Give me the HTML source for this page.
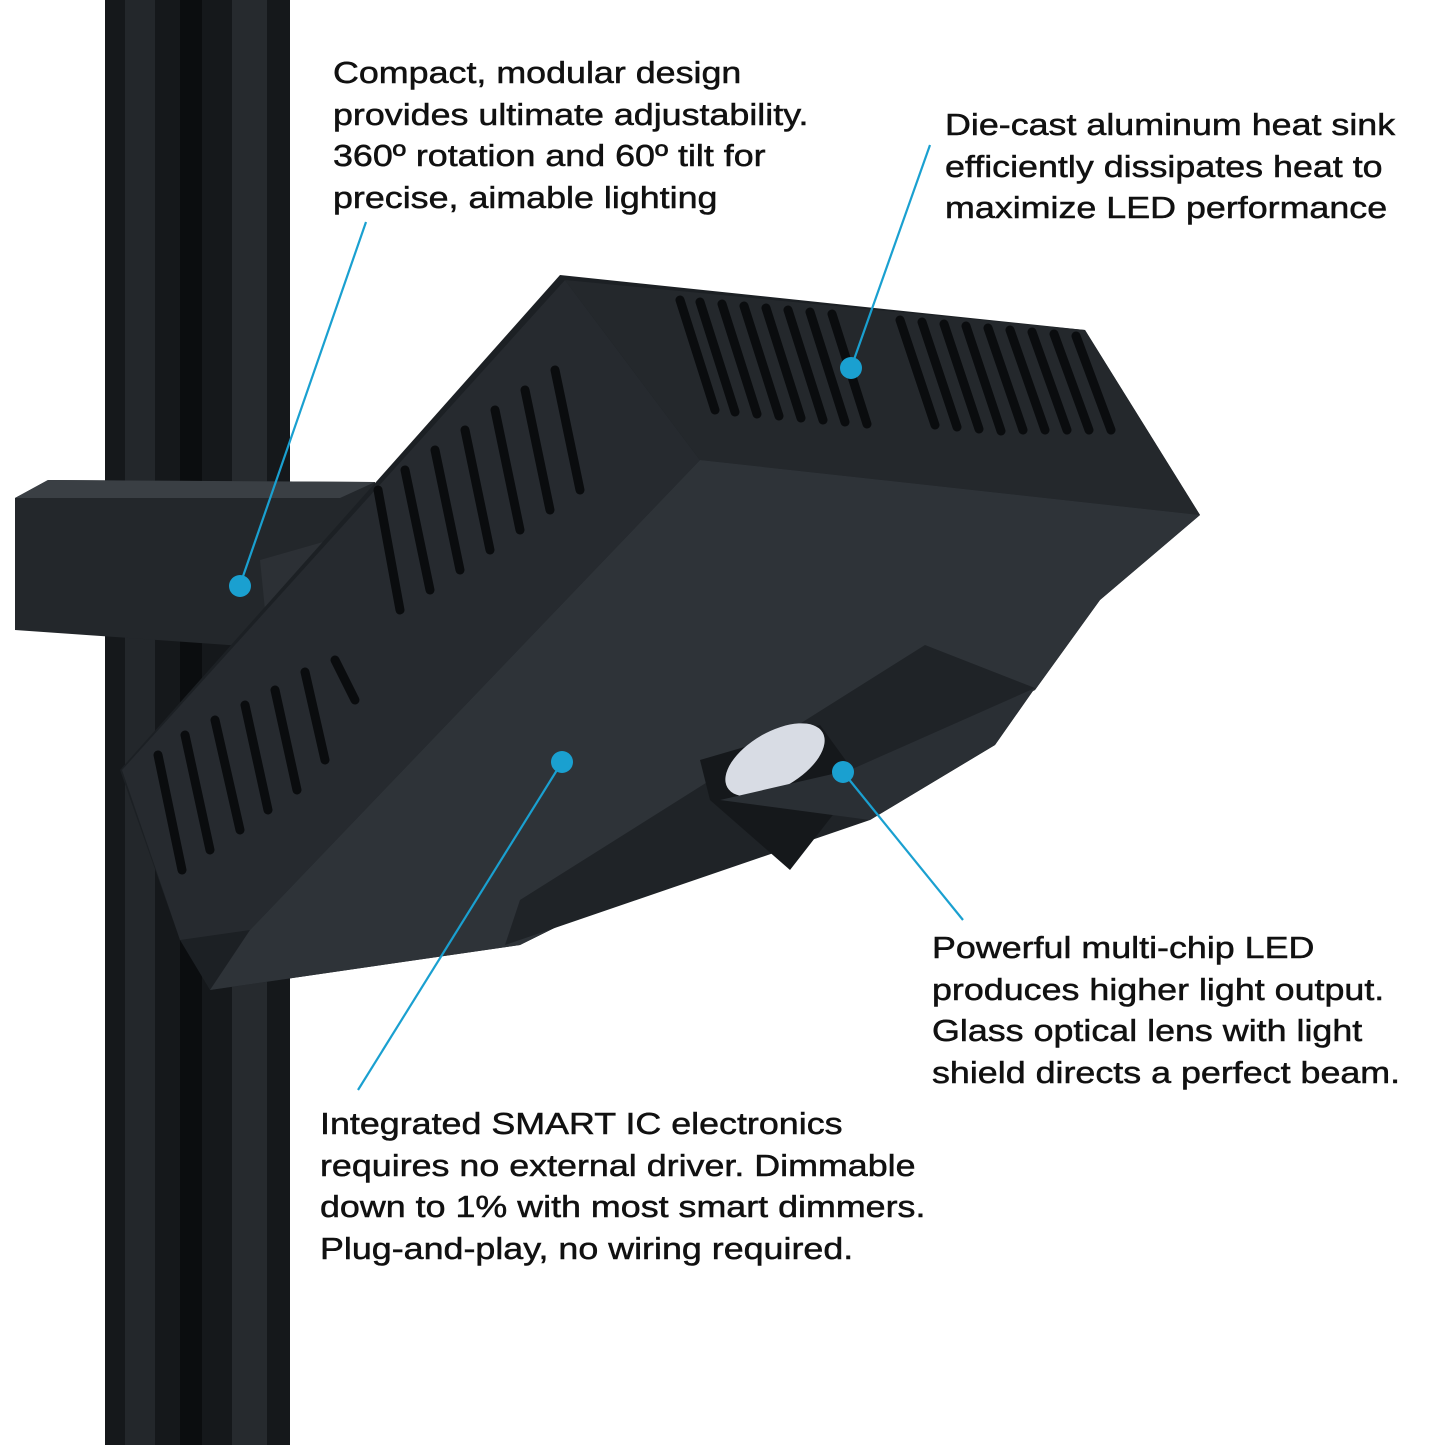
<!DOCTYPE html>
<html><head><meta charset="utf-8"><style>
html,body{margin:0;padding:0;background:#fff;}
.wrap{position:relative;width:1445px;height:1445px;overflow:hidden;background:#fff;}
svg{position:absolute;left:0;top:0;}
.t{position:absolute;font-family:"Liberation Sans",Arial,sans-serif;font-size:30.5px;line-height:41.7px;color:#111;white-space:nowrap;transform:scaleX(1.175);transform-origin:0 0;-webkit-text-stroke:0.5px #111;}
</style></head><body><div class="wrap">
<svg width="1445" height="1445" viewBox="0 0 1445 1445">
<rect x="105" y="0" width="185" height="1445" fill="#15181b"/>
<rect x="125" y="0" width="30" height="1445" fill="#23272b"/>
<rect x="180" y="0" width="22" height="1445" fill="#0b0d0f"/>
<rect x="232" y="0" width="35" height="1445" fill="#262a2e"/>
<polygon points="15,498 48,480 375,482 380,600 300,650 15,630" fill="#23272b"/>
<polygon points="15,498 48,480 375,482 340,498" fill="#3a3f44"/>
<polygon points="260,560 330,540 360,580 355,640 320,680 270,660" fill="#2c3035"/>
<circle cx="297" cy="612" r="15" fill="#0a0c0e" stroke="#454a50" stroke-width="3"/>
<polygon points="120,770 560,275 1085,330 1200,515 1100,600 1035,690 520,945 210,990 180,940" fill="#1c2024"/>
<polygon points="122,770 565,280 700,460 250,930 180,940" fill="#262a2f"/>
<polygon points="565,280 1085,330 1200,515 700,460" fill="#24282c"/>
<polygon points="700,460 1200,515 1100,600 1035,690 520,945 210,990 250,930" fill="#2e3338"/>
<g stroke="#0a0c0e" stroke-width="9" stroke-linecap="round">
<line x1="680" y1="300" x2="715" y2="410"/><line x1="700" y1="302" x2="735" y2="412"/>
<line x1="722" y1="304" x2="757" y2="414"/><line x1="744" y1="306" x2="779" y2="416"/>
<line x1="766" y1="308" x2="801" y2="418"/><line x1="788" y1="310" x2="823" y2="420"/>
<line x1="810" y1="312" x2="845" y2="422"/><line x1="832" y1="314" x2="867" y2="424"/>
<line x1="900" y1="320" x2="935" y2="425"/><line x1="922" y1="322" x2="957" y2="427"/>
<line x1="944" y1="324" x2="979" y2="429"/><line x1="966" y1="326" x2="1001" y2="431"/>
<line x1="988" y1="328" x2="1023" y2="430"/><line x1="1010" y1="330" x2="1045" y2="430"/>
<line x1="1032" y1="332" x2="1067" y2="430"/><line x1="1054" y1="334" x2="1089" y2="430"/>
<line x1="1076" y1="336" x2="1111" y2="430"/>
<line x1="555" y1="370" x2="580" y2="490"/><line x1="525" y1="390" x2="550" y2="510"/>
<line x1="495" y1="410" x2="520" y2="530"/><line x1="465" y1="430" x2="490" y2="550"/>
<line x1="435" y1="450" x2="460" y2="570"/><line x1="405" y1="470" x2="430" y2="590"/>
<line x1="378" y1="490" x2="400" y2="610"/>
<line x1="335" y1="660" x2="355" y2="700"/><line x1="305" y1="672" x2="325" y2="760"/>
<line x1="275" y1="690" x2="297" y2="790"/><line x1="245" y1="705" x2="268" y2="810"/>
<line x1="215" y1="720" x2="240" y2="830"/><line x1="185" y1="735" x2="210" y2="850"/>
<line x1="158" y1="755" x2="182" y2="870"/>
</g>
<polygon points="925,645 1035,688 995,745 870,820 505,945 520,900" fill="#1f2327"/>
<polygon points="700,760 820,725 860,780 790,870 710,800" fill="#15181b"/>
<ellipse cx="775" cy="760" rx="55" ry="28" fill="#d8dce4" transform="rotate(-30 775 760)"/>
<polygon points="720,800 870,820 995,745 1035,688 850,770" fill="#2a2f34"/>
<g stroke="#1aa0d0" stroke-width="2.2" fill="none">
<line x1="366" y1="222" x2="240" y2="585"/>
<line x1="930" y1="145" x2="851" y2="368"/>
<line x1="963" y1="920" x2="843" y2="772"/>
<line x1="358" y1="1090" x2="562" y2="762"/>
</g>
<g fill="#1aa0d0">
<circle cx="240" cy="586" r="11"/><circle cx="851" cy="368" r="11"/>
<circle cx="843" cy="772" r="11"/><circle cx="562" cy="762" r="11"/>
</g>
</svg>
<div class="t" style="left:333px;top:53px;">Compact, modular design<br>provides ultimate adjustability.<br>360º rotation and 60º tilt for<br>precise, aimable lighting</div>
<div class="t" style="left:945px;top:105px;">Die-cast aluminum heat sink<br>efficiently dissipates heat to<br>maximize LED performance</div>
<div class="t" style="left:932px;top:928px;">Powerful multi-chip LED<br>produces higher light output.<br>Glass optical lens with light<br>shield directs a perfect beam.</div>
<div class="t" style="left:320px;top:1104px;">Integrated SMART IC electronics<br>requires no external driver. Dimmable<br>down to 1% with most smart dimmers.<br>Plug-and-play, no wiring required.</div>
</div></body></html>
